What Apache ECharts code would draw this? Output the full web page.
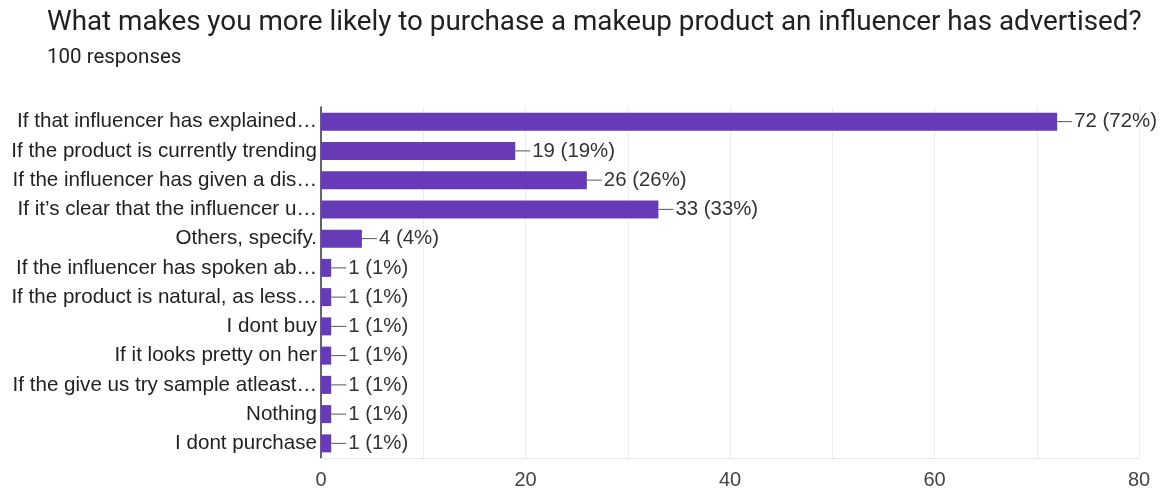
<!DOCTYPE html>
<html>
<head>
<meta charset="utf-8">
<script src="https://cdn.jsdelivr.net/npm/echarts@6/dist/echarts.min.js"></script>
<style>
  html, body { margin: 0; padding: 0; background: #fff; }
  #chart { width: 1167px; height: 491px; }
</style>
</head>
<body>
<div id="chart"></div>
<script>
// Survey answers (top to bottom) and response counts
const categories = [
  'If that influencer has explained…',
  'If the product is currently trending',
  'If the influencer has given a dis…',
  'If it’s clear that the influencer u…',
  'Others, specify.',
  'If the influencer has spoken ab…',
  'If the product is natural, as less…',
  'I dont buy',
  'If it looks pretty on her',
  'If the give us try sample atleast…',
  'Nothing',
  'I dont purchase'
];
const counts = [72, 19, 26, 33, 4, 1, 1, 1, 1, 1, 1, 1];
const totalResponses = 100;
const xTickLabels = [0, 20, 40, 60, 80];

const chart = echarts.init(document.getElementById('chart'));
const titleFont = 'Roboto, "Noto Sans", Arial, sans-serif';
const font = '"Liberation Sans", Arial, sans-serif';

chart.setOption({
  animation: false,
  title: {
    text: 'What makes you more likely to purchase a makeup product an influencer has advertised?',
    subtext: totalResponses + ' responses',
    left: 42,
    top: 4,
    itemGap: 10,
    textStyle: { fontFamily: titleFont, fontSize: 27.8, fontWeight: 'normal', color: '#202124' },
    subtextStyle: { fontFamily: titleFont, fontSize: 20.5, color: '#202124' }
  },
  grid: { left: 321, right: 28, top: 107, bottom: 33, containLabel: false },
  xAxis: {
    type: 'value',
    min: 0,
    max: 80,
    interval: 10,
    axisLine: { show: true, lineStyle: { color: '#e6e6e6' } },
    axisTick: { show: false },
    splitLine: { show: true, lineStyle: { color: '#ececec' } },
    axisLabel: {
      margin: 12,
      fontFamily: font,
      fontSize: 20,
      color: '#444',
      formatter: v => (xTickLabels.indexOf(v) >= 0 ? String(v) : '')
    }
  },
  yAxis: {
    type: 'category',
    inverse: true,
    data: categories,
    axisLine: { show: true, lineStyle: { color: '#333', width: 1.5 } },
    axisTick: { show: false },
    axisLabel: { margin: 4, fontFamily: font, fontSize: 20.6, color: '#222' }
  },
  series: [{
    type: 'bar',
    data: counts,
    barWidth: 18,
    itemStyle: { color: '#673ab7' },
    label: {
      show: true,
      position: 'right',
      distance: 0,
      formatter: p => '{l|}{v|' + p.value + ' (' + Math.round(p.value / totalResponses * 100) + '%)}',
      rich: {
        l: { width: 15, height: 1, backgroundColor: '#555' },
        v: { fontFamily: font, fontSize: 20.4, color: '#333', padding: [0, 0, 0, 2] }
      }
    }
  }]
});
</script>
</body>
</html>
